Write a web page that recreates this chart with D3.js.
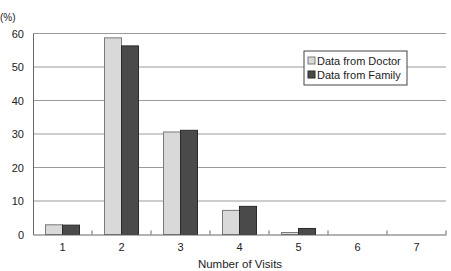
<!DOCTYPE html>
<html>
<head>
<meta charset="utf-8">
<script src="https://cdn.jsdelivr.net/npm/d3@7"></script>
<style>
  body { margin: 0; background: #fff; }
  svg text { font-family: "Liberation Sans", Arial, sans-serif; fill: #222; }
</style>
</head>
<body>
<div id="myViz"></div>
<script>
// chart data
var visits = ["1", "2", "3", "4", "5", "6", "7"];
var seriesNames = ["Data from Doctor", "Data from Family"];
var doctorValues = [2.9, 58.7, 30.6, 7.2, 0.6, 0, 0];
var familyValues = [2.8, 56.3, 31.1, 8.4, 1.8, 0, 0];
var yTicks = [0, 10, 20, 30, 40, 50, 60];

var W = 451, H = 271;
var margin = {top: 33.5, right: 5, bottom: 36.5, left: 33};
var width = W - margin.left - margin.right,
    height = H - margin.top - margin.bottom;

var colors = {fill: ["#d9d9d9", "#4a4a4a"], stroke: ["#7a7a7a", "#2a2a2a"]};

var svg = d3.select("#myViz").append("svg")
  .attr("width", W)
  .attr("height", H);

var chartGroup = svg.append("g")
  .attr("transform", `translate(${margin.left}, ${margin.top})`);

var x = d3.scaleBand().domain(visits).range([0, width]);
var xInner = d3.scaleBand().domain(seriesNames).range([0, 34]);
var y = d3.scaleLinear().domain([0, 60]).range([height, 0]);

// gridlines
chartGroup.append("g")
  .selectAll("line")
  .data(yTicks.filter(d => d > 0))
  .enter().append("line")
    .attr("x1", 0).attr("x2", width)
    .attr("y1", d => y(d)).attr("y2", d => y(d))
    .attr("stroke", "#9a9a9a")
    .attr("stroke-width", 1);

// y axis
var yAxis = chartGroup.append("g")
  .call(d3.axisLeft(y).tickValues(yTicks).tickSize(0).tickPadding(9));
yAxis.select(".domain").attr("stroke", "#666");
yAxis.selectAll("text").style("font-size", "11px").attr("fill", "#222");

// bars
var data = visits.map((v, i) => ({visit: v, vals: [doctorValues[i], familyValues[i]]}));
var groups = chartGroup.selectAll(".grp")
  .data(data)
  .enter().append("g")
    .attr("transform", d => `translate(${x(d.visit) + (x.bandwidth() - 34) / 2}, 0)`);

groups.selectAll("rect")
  .data(d => d.vals.map((v, j) => ({name: seriesNames[j], value: v, j: j})))
  .enter().append("rect")
    .filter(d => d.value > 0)
    .attr("x", d => xInner(d.name))
    .attr("y", d => y(d.value))
    .attr("width", xInner.bandwidth())
    .attr("height", d => height - y(d.value))
    .attr("fill", d => colors.fill[d.j])
    .attr("stroke", d => colors.stroke[d.j])
    .attr("stroke-width", 1);

// x axis
var xAxis = chartGroup.append("g")
  .attr("transform", `translate(0, ${height})`)
  .call(d3.axisBottom(x).tickSize(0).tickPadding(9));
xAxis.select(".domain").attr("stroke", "#666");
xAxis.selectAll("text").style("font-size", "11px").attr("fill", "#222");

// small ticks between categories, pointing up
chartGroup.append("g")
  .selectAll("line")
  .data(visits)
  .enter().append("line")
    .attr("x1", d => x(d) + x.bandwidth()).attr("x2", d => x(d) + x.bandwidth())
    .attr("y1", height).attr("y2", height - 4)
    .attr("stroke", "#666");

// axis labels
svg.append("text")
  .attr("x", 0).attr("y", 21)
  .style("font-size", "10px")
  .text("(%)");

svg.append("text")
  .attr("x", 240).attr("y", 268)
  .attr("text-anchor", "middle")
  .style("font-size", "11.5px")
  .text("Number of Visits");

// legend
var legend = svg.append("g").attr("transform", "translate(304, 51)");
legend.append("rect")
  .attr("width", 103).attr("height", 34)
  .attr("fill", "#fff")
  .attr("stroke", "#444");
seriesNames.forEach((name, i) => {
  legend.append("rect")
    .attr("x", 4).attr("y", 6 + i * 14)
    .attr("width", 7).attr("height", 7)
    .attr("fill", colors.fill[i])
    .attr("stroke", colors.stroke[i]);
  legend.append("text")
    .attr("x", 13).attr("y", 13.5 + i * 14)
    .style("font-size", "11px")
    .text(name);
});
</script>
</body>
</html>
